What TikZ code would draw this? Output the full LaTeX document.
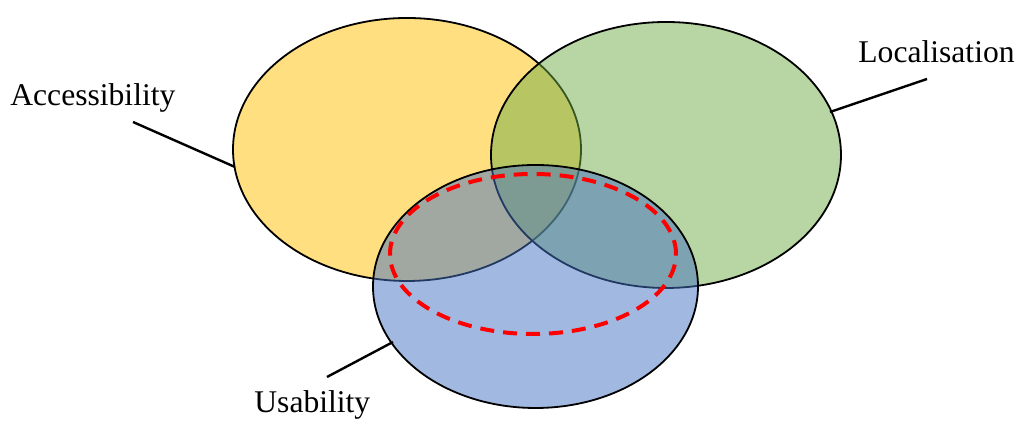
\documentclass[tikz,border=0pt]{standalone}
\usepackage{fontspec}
\setmainfont{Liberation Serif}
\usetikzlibrary{positioning}

\definecolor{accgold}{HTML}{FFC000}
\definecolor{locgreen}{HTML}{70AD47}
\definecolor{usablue}{HTML}{4472C4}
\definecolor{coredash}{HTML}{FF0000}

\tikzset{
  set/.style={draw=black, line width=0.9pt, fill opacity=0.5},
  lead/.style={draw=black, line width=1.2pt},
  lbl/.style={font=\fontsize{15.8}{19}\selectfont, inner sep=0pt, anchor=base west},
}

\begin{document}
\begin{tikzpicture}[x=0.5pt, y=0.5pt]
 \useasboundingbox (0,0) rectangle (1024,421);
 % the three sets
 \draw[set, fill=accgold] (407,271.5) ellipse [x radius=174, y radius=131.5];
 \draw[set, fill=locgreen] (666,266) ellipse [x radius=175, y radius=133];
 \draw[set, fill=usablue] (535.5,134.5) ellipse [x radius=162.5, y radius=121.5];
 \draw[coredash, line width=2pt, dash pattern=on 7pt off 4.5pt] (533,167) ellipse [x radius=143, y radius=80];
 % labels
 \node[lbl] (acc) at (10,315) {Accessibility};
 \node[lbl] (loc) at (858,358) {Localisation};
 \node[lbl] (usa) at (254,8) {Usability};
 % leader lines
 \coordinate (accA) at (133,299);
 \coordinate (accB) at (235,254);
 \coordinate (locA) at (927,342);
 \coordinate (locB) at (830,309);
 \coordinate (usaA) at (327,44);
 \coordinate (usaB) at (393,79);
 \draw[lead] (accA) -- (accB);
 \draw[lead] (locA) -- (locB);
 \draw[lead] (usaA) -- (usaB);
\end{tikzpicture}
\end{document}
